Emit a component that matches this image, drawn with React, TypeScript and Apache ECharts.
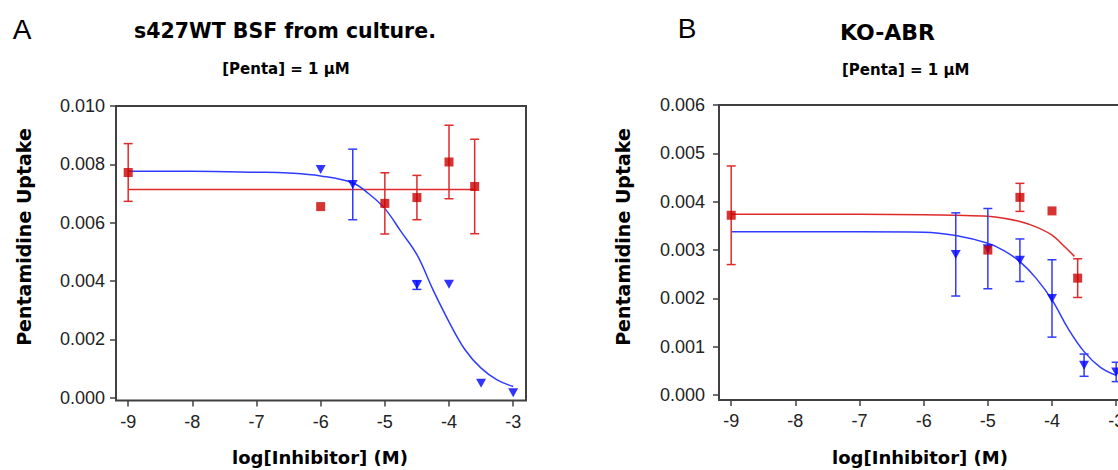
import React, { useEffect, useRef } from "react";
import * as echarts from "echarts";

// ---- Panel A: s427WT BSF from culture ----
const aRedX = [-9, -6, -5, -4.5, -4, -3.6];
const aRedY = [0.00772, 0.00655, 0.00666, 0.00686, 0.00808, 0.00724];
const aRedErr = [0.00099, 0, 0.00105, 0.00076, 0.00126, 0.00162];
const aRedFitX = [-9, -3.6];
const aRedFitY = [0.00714, 0.00714];

const aBlueX = [-6, -5.5, -4.5, -4, -3.5, -3];
const aBlueY = [0.00782, 0.00731, 0.00386, 0.00389, 0.00049, 0.00017];
const aBlueErr = [0, 0.00121, 0.00015, 0, 0, 0];
const aBlueFitX = [-9, -8, -7, -6.5, -6, -5.5, -5.25, -5, -4.75, -4.5, -4.25, -4, -3.75, -3.5, -3.25, -3];
const aBlueFitY = [0.00776, 0.00776, 0.00773, 0.0077, 0.0076, 0.00736, 0.00699, 0.00648, 0.0057, 0.0049, 0.0037, 0.0026, 0.00164, 0.00101, 0.00061, 0.00038];

// ---- Panel B: KO-ABR ----
const bRedX = [-9, -5, -4.5, -4, -3.6];
const bRedY = [0.00372, 0.003, 0.00409, 0.00381, 0.00242];
const bRedErr = [0.00102, 0, 0.00029, 0, 0.0004];
const bRedFitX = [-9, -7, -6, -5.5, -5, -4.75, -4.5, -4.25, -4, -3.85, -3.65];
const bRedFitY = [0.00374, 0.00374, 0.00373, 0.00372, 0.0037, 0.00366, 0.00359, 0.00348, 0.00331, 0.00313, 0.00287];

const bBlueX = [-5.5, -5, -4.5, -4, -3.5, -3];
const bBlueY = [0.00291, 0.00303, 0.00279, 0.002, 0.00062, 0.00048];
const bBlueErr = [0.00086, 0.00083, 0.00044, 0.0008, 0.00023, 0.0002];
const bBlueFitX = [-9, -7, -6, -5.5, -5, -4.75, -4.5, -4.25, -4, -3.75, -3.5, -3.25, -3];
const bBlueFitY = [0.00338, 0.00338, 0.00337, 0.0033, 0.00314, 0.00299, 0.00276, 0.00242, 0.00197, 0.00138, 0.0009, 0.00058, 0.00041];

// ---- Ticks and texts ----
const xTicks = [-9, -8, -7, -6, -5, -4, -3];
const aYTicks = [0, 0.002, 0.004, 0.006, 0.008, 0.01];
const bYTicks = [0, 0.001, 0.002, 0.003, 0.004, 0.005, 0.006];
const titleA = "s427WT BSF from culture.";
const titleB = "KO-ABR";
const subTitle = "[Penta] = 1 \u00b5M";
const xName = "log[Inhibitor] (M)";
const yName = "Pentamidine Uptake";

const RED = "#cc0000";
const RED_LINE = "#e02a2a";
const BLUE = "#0000ff";
const BLUE_LINE = "#2f3cff";
const AXIS = "#404040";
const TICK_FONT = "'Liberation Sans', Arial, sans-serif";
const BOLD_FONT = "'DejaVu Sans', sans-serif";

const zip = (xs: number[], ys: number[]) => xs.map((x, i) => [x, ys[i]]);
const errData = (xs: number[], ys: number[], es: number[]) =>
  xs.map((x, i) => [x, ys[i] - es[i], ys[i] + es[i]]).filter((_, i) => es[i] > 0);

function errorSeries(idx: number, data: number[][], color: string) {
  return {
    type: "custom",
    xAxisIndex: idx,
    yAxisIndex: idx,
    encode: { x: 0, y: [1, 2] },
    data,
    z: 3,
    silent: true,
    renderItem: (params: any, api: any) => {
      const x = api.value(0);
      const top = api.coord([x, api.value(2)]);
      const bot = api.coord([x, api.value(1)]);
      const hw = 4.5;
      const style = { stroke: color, lineWidth: 1.5 };
      return {
        type: "group",
        children: [
          { type: "line", shape: { x1: top[0], y1: top[1], x2: bot[0], y2: bot[1] }, style },
          { type: "line", shape: { x1: top[0] - hw, y1: top[1], x2: top[0] + hw, y2: top[1] }, style },
          { type: "line", shape: { x1: bot[0] - hw, y1: bot[1], x2: bot[0] + hw, y2: bot[1] }, style },
        ],
      };
    },
  };
}

function lineSeries(idx: number, xs: number[], ys: number[], color: string) {
  return {
    type: "line",
    xAxisIndex: idx,
    yAxisIndex: idx,
    data: zip(xs, ys),
    smooth: 0.4,
    symbol: "none",
    lineStyle: { color, width: 1.5 },
    z: 2,
    silent: true,
  };
}

function squareSeries(idx: number, xs: number[], ys: number[]) {
  return {
    type: "scatter",
    xAxisIndex: idx,
    yAxisIndex: idx,
    data: zip(xs, ys),
    symbol: "rect",
    symbolSize: 9,
    itemStyle: { color: RED },
    z: 5,
    silent: true,
  };
}

function triangleSeries(idx: number, xs: number[], ys: number[]) {
  return {
    type: "scatter",
    xAxisIndex: idx,
    yAxisIndex: idx,
    data: zip(xs, ys),
    symbol: "triangle",
    symbolRotate: 180,
    symbolSize: [10, 9],
    itemStyle: { color: BLUE },
    z: 4,
    silent: true,
  };
}

function xAxisDef(idx: number) {
  return {
    type: "value",
    gridIndex: idx,
    min: -9.19,
    max: -2.8,
    position: "bottom",
    splitLine: { show: false },
    axisLine: { show: false, onZero: false },
    axisTick: { show: true, customValues: xTicks, length: 6, lineStyle: { color: AXIS, width: 1.5 } },
    axisLabel: {
      customValues: xTicks,
      margin: 12,
      fontSize: 18,
      fontFamily: TICK_FONT,
      color: "#222",
      formatter: (v: number) => String(v),
    },
  };
}

function yAxisDef(idx: number, max: number, ticks: number[], margin: number) {
  return {
    type: "value",
    gridIndex: idx,
    min: -0.0001,
    max,
    position: "left",
    splitLine: { show: false },
    axisLine: { show: false, onZero: false },
    axisTick: { show: true, customValues: ticks, length: 6, lineStyle: { color: AXIS, width: 1.5 } },
    axisLabel: {
      customValues: ticks,
      margin,
      fontSize: 18,
      fontFamily: TICK_FONT,
      color: "#222",
      formatter: (v: number) => v.toFixed(3),
    },
  };
}

function txt(text: string, x: number, y: number, size: number, bold: boolean, align: string, rotation = 0) {
  return {
    type: "text",
    x,
    y,
    rotation,
    silent: true,
    style: {
      text,
      fill: "#000",
      fontSize: size,
      fontWeight: bold ? "bold" : "normal",
      fontFamily: bold ? BOLD_FONT : TICK_FONT,
      textAlign: align,
      textVerticalAlign: "middle",
      align,
      verticalAlign: "middle",
    },
  };
}

export default function App() {
  const ref = useRef<HTMLDivElement>(null);
  useEffect(() => {
    if (!ref.current) return;
    const chart = echarts.init(ref.current, null, { renderer: "svg" });
    chart.setOption({
      animation: false,
      backgroundColor: "#fff",
      grid: [
        { left: 116, top: 106, width: 410, height: 294.5, show: true, borderColor: AXIS, borderWidth: 2, backgroundColor: "transparent" },
        { left: 719, top: 105, width: 410, height: 295, show: true, borderColor: AXIS, borderWidth: 2, backgroundColor: "transparent" },
      ],
      xAxis: [xAxisDef(0), xAxisDef(1)],
      yAxis: [yAxisDef(0, 0.01, aYTicks, 11), yAxisDef(1, 0.006, bYTicks, 14)],
      series: [
        lineSeries(0, aRedFitX, aRedFitY, RED_LINE),
        lineSeries(0, aBlueFitX, aBlueFitY, BLUE_LINE),
        errorSeries(0, errData(aRedX, aRedY, aRedErr), RED_LINE),
        errorSeries(0, errData(aBlueX, aBlueY, aBlueErr), BLUE_LINE),
        triangleSeries(0, aBlueX, aBlueY),
        squareSeries(0, aRedX, aRedY),
        lineSeries(1, bRedFitX, bRedFitY, RED_LINE),
        lineSeries(1, bBlueFitX, bBlueFitY, BLUE_LINE),
        errorSeries(1, errData(bRedX, bRedY, bRedErr), RED_LINE),
        errorSeries(1, errData(bBlueX, bBlueY, bBlueErr), BLUE_LINE),
        triangleSeries(1, bBlueX, bBlueY),
        squareSeries(1, bRedX, bRedY),
      ],
      graphic: [
        txt("A", 22, 29, 28, false, "center"),
        txt(titleA, 285, 31, 20.5, true, "center"),
        txt(subTitle, 286, 69, 15, true, "center"),
        txt("B", 687, 28, 28, false, "center"),
        txt(titleB, 840, 32, 22, true, "left"),
        txt(subTitle, 842, 70, 15, true, "left"),
        txt(yName, 24, 237, 19, true, "center", Math.PI / 2),
        txt(yName, 623, 237, 19, true, "center", Math.PI / 2),
        txt(xName, 320, 457, 18, true, "center"),
        txt(xName, 920, 457, 18, true, "center"),
      ],
    });
    return () => chart.dispose();
  }, []);
  return (
    <div style={{ position: "fixed", left: 0, top: 0, width: 1118, height: 470, overflow: "hidden", background: "#fff" }}>
      <div ref={ref} style={{ width: 1140, height: 470 }} />
    </div>
  );
}
